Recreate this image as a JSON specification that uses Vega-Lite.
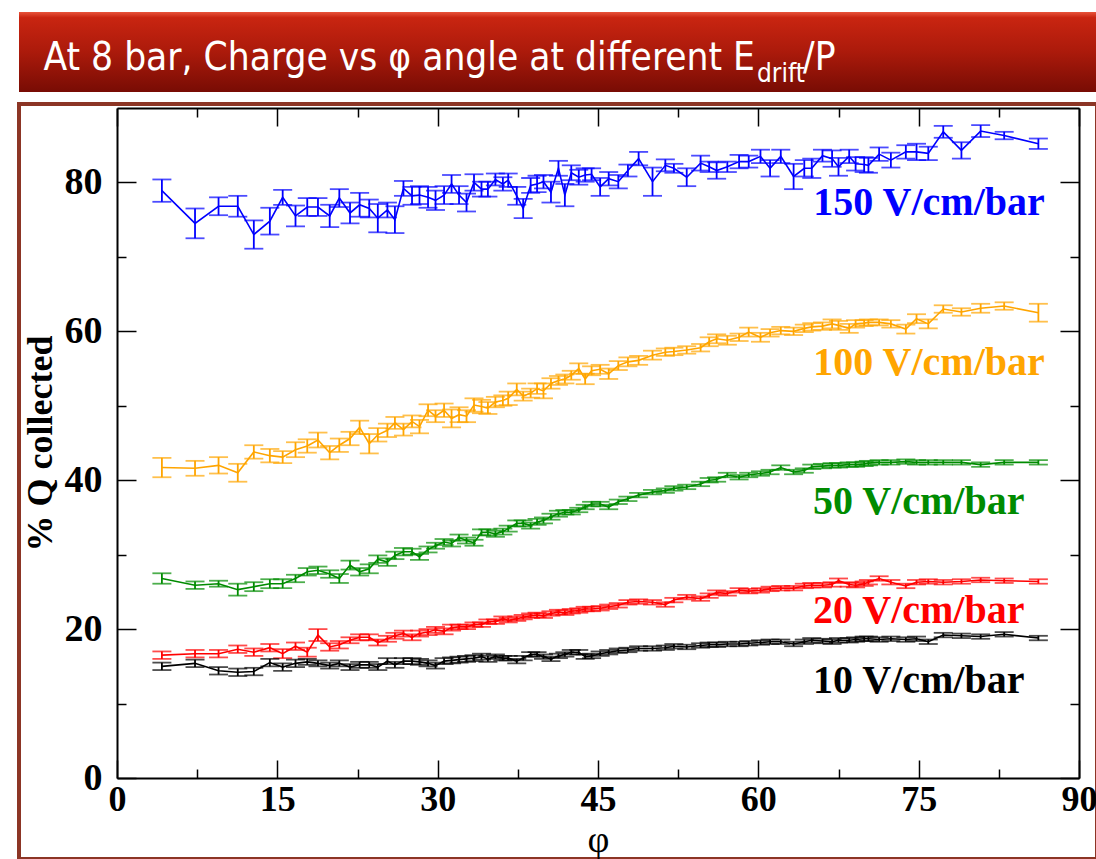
{
"$schema": "https://vega.github.io/schema/vega-lite/v6.json",
"background": "white",
"padding": {"left": 17, "top": 12, "right": 0, "bottom": 0},
"spacing": 10,
"config": {"view": {"stroke": null}},
"datasets": {
"pts": [
{"p":4.2,"s":"10","q":15.0,"e":0.5},{"p":7.3,"s":"10","q":15.4,"e":0.5},{"p":9.5,"s":"10","q":14.4,"e":0.5},{"p":11.3,"s":"10","q":14.2,"e":0.5},{"p":12.8,"s":"10","q":14.3,"e":0.5},{"p":14.3,"s":"10","q":15.5,"e":0.5},{"p":15.5,"s":"10","q":14.9,"e":0.5},{"p":16.7,"s":"10","q":15.4,"e":0.5},{"p":17.8,"s":"10","q":15.6,"e":0.4},{"p":18.8,"s":"10","q":15.4,"e":0.4},
{"p":19.9,"s":"10","q":15.1,"e":0.4},{"p":20.8,"s":"10","q":15.4,"e":0.4},{"p":21.8,"s":"10","q":14.9,"e":0.4},{"p":22.7,"s":"10","q":15.2,"e":0.4},{"p":23.6,"s":"10","q":15.2,"e":0.4},{"p":24.4,"s":"10","q":14.9,"e":0.4},{"p":25.3,"s":"10","q":15.7,"e":0.4},{"p":26.0,"s":"10","q":15.2,"e":0.4},{"p":26.8,"s":"10","q":15.7,"e":0.4},{"p":27.6,"s":"10","q":15.7,"e":0.4},
{"p":28.3,"s":"10","q":15.6,"e":0.4},{"p":29.1,"s":"10","q":15.4,"e":0.4},{"p":29.8,"s":"10","q":15.1,"e":0.4},{"p":30.6,"s":"10","q":15.7,"e":0.4},{"p":31.3,"s":"10","q":15.8,"e":0.4},{"p":32.0,"s":"10","q":15.9,"e":0.4},{"p":32.7,"s":"10","q":16.0,"e":0.4},{"p":33.4,"s":"10","q":16.1,"e":0.4},{"p":34.1,"s":"10","q":16.3,"e":0.4},{"p":34.7,"s":"10","q":16.0,"e":0.4},
{"p":35.4,"s":"10","q":16.3,"e":0.3},{"p":36.1,"s":"10","q":16.1,"e":0.3},{"p":36.6,"s":"10","q":16.1,"e":0.3},{"p":37.4,"s":"10","q":15.7,"e":0.3},{"p":38.0,"s":"10","q":16.1,"e":0.3},{"p":38.7,"s":"10","q":16.6,"e":0.3},{"p":39.3,"s":"10","q":16.6,"e":0.3},{"p":39.9,"s":"10","q":16.3,"e":0.3},{"p":40.6,"s":"10","q":16.0,"e":0.3},{"p":41.3,"s":"10","q":16.4,"e":0.3},
{"p":41.9,"s":"10","q":16.6,"e":0.3},{"p":42.5,"s":"10","q":16.9,"e":0.3},{"p":43.2,"s":"10","q":16.9,"e":0.3},{"p":43.8,"s":"10","q":16.3,"e":0.3},{"p":44.4,"s":"10","q":16.4,"e":0.3},{"p":45.2,"s":"10","q":16.7,"e":0.3},{"p":46.0,"s":"10","q":16.9,"e":0.3},{"p":46.9,"s":"10","q":17.1,"e":0.3},{"p":47.8,"s":"10","q":17.2,"e":0.3},{"p":48.8,"s":"10","q":17.4,"e":0.3},
{"p":50.1,"s":"10","q":17.4,"e":0.3},{"p":51.3,"s":"10","q":17.5,"e":0.3},{"p":52.1,"s":"10","q":17.7,"e":0.3},{"p":53.3,"s":"10","q":17.6,"e":0.3},{"p":54.6,"s":"10","q":17.8,"e":0.3},{"p":55.4,"s":"10","q":17.9,"e":0.3},{"p":56.1,"s":"10","q":17.9,"e":0.3},{"p":57.1,"s":"10","q":18.0,"e":0.3},{"p":58.2,"s":"10","q":18.0,"e":0.3},{"p":59.1,"s":"10","q":18.1,"e":0.3},
{"p":60.2,"s":"10","q":18.2,"e":0.3},{"p":61.1,"s":"10","q":18.3,"e":0.3},{"p":62.1,"s":"10","q":18.3,"e":0.3},{"p":63.3,"s":"10","q":18.0,"e":0.3},{"p":64.3,"s":"10","q":18.3,"e":0.3},{"p":65.0,"s":"10","q":18.5,"e":0.3},{"p":66.0,"s":"10","q":18.4,"e":0.3},{"p":66.9,"s":"10","q":18.3,"e":0.3},{"p":67.5,"s":"10","q":18.5,"e":0.3},{"p":68.5,"s":"10","q":18.5,"e":0.3},
{"p":69.1,"s":"10","q":18.6,"e":0.3},{"p":69.9,"s":"10","q":18.7,"e":0.3},{"p":70.3,"s":"10","q":18.7,"e":0.3},{"p":71.3,"s":"10","q":18.6,"e":0.3},{"p":72.4,"s":"10","q":18.7,"e":0.3},{"p":73.8,"s":"10","q":18.6,"e":0.3},{"p":74.8,"s":"10","q":18.7,"e":0.3},{"p":75.9,"s":"10","q":18.3,"e":0.3},{"p":77.3,"s":"10","q":19.2,"e":0.3},{"p":79.0,"s":"10","q":19.1,"e":0.3},
{"p":80.8,"s":"10","q":19.0,"e":0.3},{"p":83.0,"s":"10","q":19.3,"e":0.3},{"p":86.2,"s":"10","q":18.8,"e":0.3},

{"p":4.2,"s":"20","q":16.5,"e":0.5},{"p":7.3,"s":"20","q":16.7,"e":0.5},{"p":9.5,"s":"20","q":16.7,"e":0.5},{"p":11.3,"s":"20","q":17.3,"e":0.5},{"p":12.8,"s":"20","q":16.9,"e":0.5},{"p":14.3,"s":"20","q":17.5,"e":0.5},{"p":15.5,"s":"20","q":16.7,"e":0.6},{"p":16.7,"s":"20","q":17.7,"e":0.5},{"p":17.8,"s":"20","q":16.9,"e":0.6},{"p":18.8,"s":"20","q":19.2,"e":0.8},
{"p":19.9,"s":"20","q":17.6,"e":0.5},{"p":20.8,"s":"20","q":17.9,"e":0.5},{"p":21.8,"s":"20","q":18.5,"e":0.4},{"p":22.7,"s":"20","q":18.9,"e":0.4},{"p":23.6,"s":"20","q":18.9,"e":0.4},{"p":24.4,"s":"20","q":18.2,"e":0.4},{"p":25.3,"s":"20","q":18.7,"e":0.4},{"p":26.0,"s":"20","q":19.1,"e":0.4},{"p":26.8,"s":"20","q":19.4,"e":0.4},{"p":27.6,"s":"20","q":18.9,"e":0.4},
{"p":28.3,"s":"20","q":19.4,"e":0.4},{"p":29.1,"s":"20","q":19.6,"e":0.4},{"p":29.8,"s":"20","q":19.9,"e":0.4},{"p":30.6,"s":"20","q":19.7,"e":0.4},{"p":31.3,"s":"20","q":20.2,"e":0.4},{"p":32.0,"s":"20","q":20.3,"e":0.3},{"p":32.7,"s":"20","q":20.3,"e":0.3},{"p":33.4,"s":"20","q":20.6,"e":0.3},{"p":34.1,"s":"20","q":20.6,"e":0.3},{"p":34.7,"s":"20","q":21.0,"e":0.3},
{"p":35.4,"s":"20","q":21.0,"e":0.3},{"p":36.1,"s":"20","q":21.4,"e":0.3},{"p":36.6,"s":"20","q":21.2,"e":0.3},{"p":37.4,"s":"20","q":21.4,"e":0.3},{"p":38.0,"s":"20","q":21.6,"e":0.3},{"p":38.7,"s":"20","q":21.8,"e":0.3},{"p":39.3,"s":"20","q":21.9,"e":0.3},{"p":39.9,"s":"20","q":21.8,"e":0.3},{"p":40.6,"s":"20","q":22.1,"e":0.3},{"p":41.3,"s":"20","q":22.3,"e":0.3},
{"p":41.9,"s":"20","q":22.2,"e":0.3},{"p":42.5,"s":"20","q":22.4,"e":0.3},{"p":43.2,"s":"20","q":22.5,"e":0.3},{"p":43.8,"s":"20","q":22.7,"e":0.3},{"p":44.4,"s":"20","q":22.7,"e":0.3},{"p":45.2,"s":"20","q":22.8,"e":0.3},{"p":46.0,"s":"20","q":23.0,"e":0.3},{"p":46.9,"s":"20","q":23.2,"e":0.3},{"p":47.8,"s":"20","q":23.6,"e":0.3},{"p":48.8,"s":"20","q":23.7,"e":0.3},
{"p":50.1,"s":"20","q":23.6,"e":0.3},{"p":51.3,"s":"20","q":23.3,"e":0.3},{"p":52.1,"s":"20","q":23.9,"e":0.3},{"p":53.3,"s":"20","q":24.3,"e":0.3},{"p":54.6,"s":"20","q":24.1,"e":0.3},{"p":55.4,"s":"20","q":24.5,"e":0.3},{"p":56.1,"s":"20","q":24.9,"e":0.3},{"p":57.1,"s":"20","q":24.8,"e":0.3},{"p":58.2,"s":"20","q":25.2,"e":0.3},{"p":59.1,"s":"20","q":25.1,"e":0.3},
{"p":60.2,"s":"20","q":25.2,"e":0.3},{"p":61.1,"s":"20","q":25.4,"e":0.3},{"p":62.1,"s":"20","q":25.5,"e":0.3},{"p":63.3,"s":"20","q":25.5,"e":0.3},{"p":64.3,"s":"20","q":25.8,"e":0.3},{"p":65.0,"s":"20","q":25.9,"e":0.3},{"p":66.0,"s":"20","q":25.9,"e":0.3},{"p":66.9,"s":"20","q":26.0,"e":0.3},{"p":67.5,"s":"20","q":26.5,"e":0.3},{"p":68.5,"s":"20","q":26.0,"e":0.3},
{"p":69.1,"s":"20","q":25.9,"e":0.3},{"p":69.9,"s":"20","q":26.1,"e":0.3},{"p":70.3,"s":"20","q":26.3,"e":0.3},{"p":71.3,"s":"20","q":26.8,"e":0.3},{"p":72.4,"s":"20","q":26.3,"e":0.3},{"p":73.8,"s":"20","q":25.8,"e":0.3},{"p":74.8,"s":"20","q":26.3,"e":0.3},{"p":75.9,"s":"20","q":26.4,"e":0.3},{"p":77.3,"s":"20","q":26.3,"e":0.3},{"p":79.0,"s":"20","q":26.4,"e":0.3},
{"p":80.8,"s":"20","q":26.6,"e":0.3},{"p":83.0,"s":"20","q":26.5,"e":0.3},{"p":86.2,"s":"20","q":26.4,"e":0.3},

{"p":4.2,"s":"50","q":26.8,"e":0.7},{"p":7.3,"s":"50","q":25.9,"e":0.5},{"p":9.5,"s":"50","q":26.1,"e":0.4},{"p":11.3,"s":"50","q":25.3,"e":0.8},{"p":12.8,"s":"50","q":25.7,"e":0.6},{"p":14.3,"s":"50","q":26.1,"e":0.6},{"p":15.5,"s":"50","q":26.1,"e":0.6},{"p":16.7,"s":"50","q":26.8,"e":0.5},{"p":17.8,"s":"50","q":27.7,"e":0.5},{"p":18.8,"s":"50","q":27.9,"e":0.5},
{"p":19.9,"s":"50","q":27.4,"e":0.5},{"p":20.8,"s":"50","q":26.8,"e":0.6},{"p":21.8,"s":"50","q":28.6,"e":0.6},{"p":22.7,"s":"50","q":27.7,"e":0.5},{"p":23.6,"s":"50","q":28.1,"e":0.6},{"p":24.4,"s":"50","q":29.4,"e":0.5},{"p":25.3,"s":"50","q":29.0,"e":0.5},{"p":26.0,"s":"50","q":29.9,"e":0.5},{"p":26.8,"s":"50","q":30.4,"e":0.5},{"p":27.6,"s":"50","q":30.4,"e":0.4},
{"p":28.3,"s":"50","q":29.7,"e":0.4},{"p":29.1,"s":"50","q":30.7,"e":0.4},{"p":29.8,"s":"50","q":31.2,"e":0.4},{"p":30.6,"s":"50","q":31.7,"e":0.4},{"p":31.3,"s":"50","q":31.5,"e":0.4},{"p":32.0,"s":"50","q":32.3,"e":0.4},{"p":32.7,"s":"50","q":31.9,"e":0.4},{"p":33.4,"s":"50","q":31.6,"e":0.4},{"p":34.1,"s":"50","q":33.0,"e":0.4},{"p":34.7,"s":"50","q":33.0,"e":0.4},
{"p":35.4,"s":"50","q":32.8,"e":0.4},{"p":36.1,"s":"50","q":33.1,"e":0.4},{"p":36.6,"s":"50","q":33.5,"e":0.4},{"p":37.4,"s":"50","q":34.2,"e":0.4},{"p":38.0,"s":"50","q":34.2,"e":0.4},{"p":38.7,"s":"50","q":33.9,"e":0.4},{"p":39.3,"s":"50","q":34.4,"e":0.4},{"p":39.9,"s":"50","q":34.6,"e":0.4},{"p":40.6,"s":"50","q":35.1,"e":0.4},{"p":41.3,"s":"50","q":35.5,"e":0.4},
{"p":41.9,"s":"50","q":35.7,"e":0.3},{"p":42.5,"s":"50","q":35.7,"e":0.3},{"p":43.2,"s":"50","q":36.0,"e":0.3},{"p":43.8,"s":"50","q":36.4,"e":0.3},{"p":44.4,"s":"50","q":36.8,"e":0.3},{"p":45.2,"s":"50","q":36.8,"e":0.3},{"p":46.0,"s":"50","q":36.4,"e":0.3},{"p":46.9,"s":"50","q":37.1,"e":0.3},{"p":47.8,"s":"50","q":37.5,"e":0.3},{"p":48.8,"s":"50","q":38.0,"e":0.3},
{"p":50.1,"s":"50","q":38.4,"e":0.3},{"p":51.3,"s":"50","q":38.6,"e":0.3},{"p":52.1,"s":"50","q":38.9,"e":0.3},{"p":53.3,"s":"50","q":39.1,"e":0.3},{"p":54.6,"s":"50","q":39.5,"e":0.3},{"p":55.4,"s":"50","q":40.0,"e":0.3},{"p":56.1,"s":"50","q":40.1,"e":0.3},{"p":57.1,"s":"50","q":40.7,"e":0.3},{"p":58.2,"s":"50","q":40.4,"e":0.3},{"p":59.1,"s":"50","q":40.7,"e":0.3},
{"p":60.2,"s":"50","q":40.9,"e":0.3},{"p":61.1,"s":"50","q":41.1,"e":0.3},{"p":62.1,"s":"50","q":41.7,"e":0.3},{"p":63.3,"s":"50","q":41.1,"e":0.3},{"p":64.3,"s":"50","q":41.3,"e":0.3},{"p":65.0,"s":"50","q":41.8,"e":0.3},{"p":66.0,"s":"50","q":41.9,"e":0.3},{"p":66.9,"s":"50","q":42.0,"e":0.3},{"p":67.5,"s":"50","q":42.0,"e":0.3},{"p":68.5,"s":"50","q":42.1,"e":0.3},
{"p":69.1,"s":"50","q":42.1,"e":0.3},{"p":69.9,"s":"50","q":42.2,"e":0.3},{"p":70.3,"s":"50","q":42.3,"e":0.3},{"p":71.3,"s":"50","q":42.4,"e":0.3},{"p":72.4,"s":"50","q":42.4,"e":0.3},{"p":73.8,"s":"50","q":42.5,"e":0.3},{"p":74.8,"s":"50","q":42.4,"e":0.3},{"p":75.9,"s":"50","q":42.4,"e":0.3},{"p":77.3,"s":"50","q":42.4,"e":0.3},{"p":79.0,"s":"50","q":42.4,"e":0.3},
{"p":80.8,"s":"50","q":42.1,"e":0.3},{"p":83.0,"s":"50","q":42.4,"e":0.3},{"p":86.2,"s":"50","q":42.4,"e":0.3},

{"p":4.2,"s":"100","q":41.7,"e":1.3},{"p":7.3,"s":"100","q":41.6,"e":1.0},{"p":9.5,"s":"100","q":42.0,"e":1.1},{"p":11.3,"s":"100","q":41.0,"e":1.2},{"p":12.8,"s":"100","q":43.8,"e":0.9},{"p":14.3,"s":"100","q":43.3,"e":0.9},{"p":15.5,"s":"100","q":43.1,"e":0.8},{"p":16.7,"s":"100","q":44.1,"e":1.0},{"p":17.8,"s":"100","q":44.6,"e":0.9},{"p":18.8,"s":"100","q":45.4,"e":1.0},
{"p":19.9,"s":"100","q":43.7,"e":0.9},{"p":20.8,"s":"100","q":44.7,"e":0.9},{"p":21.8,"s":"100","q":45.6,"e":0.9},{"p":22.7,"s":"100","q":47.1,"e":0.9},{"p":23.6,"s":"100","q":44.9,"e":1.3},{"p":24.4,"s":"100","q":46.1,"e":0.9},{"p":25.3,"s":"100","q":46.7,"e":0.9},{"p":26.0,"s":"100","q":47.7,"e":0.8},{"p":26.8,"s":"100","q":46.8,"e":0.8},{"p":27.6,"s":"100","q":47.9,"e":0.8},
{"p":28.3,"s":"100","q":47.2,"e":0.9},{"p":29.1,"s":"100","q":49.4,"e":0.8},{"p":29.8,"s":"100","q":48.6,"e":0.8},{"p":30.6,"s":"100","q":49.4,"e":0.9},{"p":31.3,"s":"100","q":48.3,"e":1.2},{"p":32.0,"s":"100","q":48.8,"e":1.0},{"p":32.7,"s":"100","q":48.6,"e":0.8},{"p":33.4,"s":"100","q":50.1,"e":0.9},{"p":34.1,"s":"100","q":49.9,"e":0.9},{"p":34.7,"s":"100","q":49.7,"e":0.8},
{"p":35.4,"s":"100","q":50.5,"e":0.7},{"p":36.1,"s":"100","q":50.7,"e":0.7},{"p":36.6,"s":"100","q":51.0,"e":0.9},{"p":37.4,"s":"100","q":52.2,"e":0.8},{"p":38.0,"s":"100","q":51.3,"e":0.6},{"p":38.7,"s":"100","q":51.7,"e":0.6},{"p":39.3,"s":"100","q":52.3,"e":0.7},{"p":39.9,"s":"100","q":52.0,"e":1.0},{"p":40.6,"s":"100","q":53.0,"e":0.7},{"p":41.3,"s":"100","q":53.4,"e":0.6},
{"p":41.9,"s":"100","q":53.6,"e":0.6},{"p":42.5,"s":"100","q":54.1,"e":0.6},{"p":43.2,"s":"100","q":55.0,"e":0.7},{"p":43.8,"s":"100","q":53.6,"e":0.7},{"p":44.4,"s":"100","q":54.7,"e":0.6},{"p":45.2,"s":"100","q":54.9,"e":0.6},{"p":46.0,"s":"100","q":54.3,"e":0.7},{"p":46.9,"s":"100","q":55.4,"e":0.6},{"p":47.8,"s":"100","q":55.9,"e":0.6},{"p":48.8,"s":"100","q":56.1,"e":0.6},
{"p":50.1,"s":"100","q":56.8,"e":0.6},{"p":51.3,"s":"100","q":57.2,"e":0.5},{"p":52.1,"s":"100","q":57.3,"e":0.5},{"p":53.3,"s":"100","q":57.5,"e":0.5},{"p":54.6,"s":"100","q":57.8,"e":0.5},{"p":55.4,"s":"100","q":58.6,"e":0.6},{"p":56.1,"s":"100","q":59.0,"e":0.6},{"p":57.1,"s":"100","q":58.8,"e":0.6},{"p":58.2,"s":"100","q":59.2,"e":0.5},{"p":59.1,"s":"100","q":59.9,"e":0.6},
{"p":60.2,"s":"100","q":59.2,"e":0.6},{"p":61.1,"s":"100","q":59.8,"e":0.5},{"p":62.1,"s":"100","q":60.1,"e":0.5},{"p":63.3,"s":"100","q":60.0,"e":0.5},{"p":64.3,"s":"100","q":60.4,"e":0.5},{"p":65.0,"s":"100","q":60.6,"e":0.5},{"p":66.0,"s":"100","q":60.7,"e":0.5},{"p":66.9,"s":"100","q":61.0,"e":0.6},{"p":67.5,"s":"100","q":60.8,"e":0.6},{"p":68.5,"s":"100","q":60.4,"e":0.6},
{"p":69.1,"s":"100","q":61.0,"e":0.5},{"p":69.9,"s":"100","q":61.1,"e":0.4},{"p":70.3,"s":"100","q":61.2,"e":0.4},{"p":71.3,"s":"100","q":61.2,"e":0.4},{"p":72.4,"s":"100","q":61.0,"e":0.5},{"p":73.8,"s":"100","q":60.3,"e":0.6},{"p":74.8,"s":"100","q":61.7,"e":0.6},{"p":75.9,"s":"100","q":61.0,"e":0.6},{"p":77.3,"s":"100","q":63.0,"e":0.5},{"p":79.0,"s":"100","q":62.6,"e":0.5},
{"p":80.8,"s":"100","q":63.1,"e":0.6},{"p":83.0,"s":"100","q":63.4,"e":0.5},{"p":86.2,"s":"100","q":62.5,"e":1.2},

{"p":4.2,"s":"150","q":78.9,"e":1.5},{"p":7.3,"s":"150","q":74.5,"e":2.0},{"p":9.5,"s":"150","q":76.8,"e":1.2},{"p":11.3,"s":"150","q":76.8,"e":1.4},{"p":12.8,"s":"150","q":73.0,"e":1.9},{"p":14.3,"s":"150","q":74.8,"e":1.8},{"p":15.5,"s":"150","q":78.0,"e":1.0},{"p":16.7,"s":"150","q":75.5,"e":1.4},{"p":17.8,"s":"150","q":76.7,"e":1.2},{"p":18.8,"s":"150","q":76.7,"e":1.2},
{"p":19.9,"s":"150","q":75.5,"e":1.5},{"p":20.8,"s":"150","q":77.9,"e":1.2},{"p":21.8,"s":"150","q":75.9,"e":1.4},{"p":22.7,"s":"150","q":77.0,"e":1.6},{"p":23.6,"s":"150","q":76.5,"e":1.2},{"p":24.4,"s":"150","q":75.2,"e":1.9},{"p":25.3,"s":"150","q":76.3,"e":1.0},{"p":26.0,"s":"150","q":75.0,"e":1.8},{"p":26.8,"s":"150","q":79.2,"e":1.0},{"p":27.6,"s":"150","q":78.2,"e":1.2},
{"p":28.3,"s":"150","q":78.3,"e":1.2},{"p":29.1,"s":"150","q":78.0,"e":1.4},{"p":29.8,"s":"150","q":77.6,"e":1.3},{"p":30.6,"s":"150","q":78.3,"e":1.2},{"p":31.3,"s":"150","q":79.8,"e":1.2},{"p":32.0,"s":"150","q":78.3,"e":1.2},{"p":32.7,"s":"150","q":77.3,"e":1.2},{"p":33.4,"s":"150","q":80.0,"e":1.1},{"p":34.1,"s":"150","q":79.1,"e":1.0},{"p":34.7,"s":"150","q":79.1,"e":1.0},
{"p":35.4,"s":"150","q":80.4,"e":0.8},{"p":36.1,"s":"150","q":79.8,"e":0.9},{"p":36.6,"s":"150","q":80.3,"e":0.9},{"p":37.4,"s":"150","q":78.2,"e":1.2},{"p":38.0,"s":"150","q":76.5,"e":1.3},{"p":38.7,"s":"150","q":79.6,"e":1.0},{"p":39.3,"s":"150","q":79.8,"e":1.1},{"p":39.9,"s":"150","q":80.1,"e":0.9},{"p":40.6,"s":"150","q":78.7,"e":1.4},{"p":41.3,"s":"150","q":81.9,"e":1.0},
{"p":41.9,"s":"150","q":78.3,"e":1.5},{"p":42.5,"s":"150","q":81.3,"e":1.0},{"p":43.2,"s":"150","q":80.7,"e":1.0},{"p":43.8,"s":"150","q":81.0,"e":0.9},{"p":44.4,"s":"150","q":81.1,"e":0.8},{"p":45.2,"s":"150","q":79.4,"e":1.2},{"p":46.0,"s":"150","q":80.5,"e":0.9},{"p":46.9,"s":"150","q":80.1,"e":0.9},{"p":47.8,"s":"150","q":81.6,"e":0.8},{"p":48.8,"s":"150","q":83.2,"e":0.9},
{"p":50.1,"s":"150","q":80.1,"e":1.9},{"p":51.3,"s":"150","q":82.3,"e":0.8},{"p":52.1,"s":"150","q":81.9,"e":0.6},{"p":53.3,"s":"150","q":80.7,"e":1.2},{"p":54.6,"s":"150","q":82.6,"e":1.0},{"p":55.4,"s":"150","q":82.1,"e":0.7},{"p":56.1,"s":"150","q":81.6,"e":1.1},{"p":57.1,"s":"150","q":82.1,"e":0.7},{"p":58.2,"s":"150","q":82.8,"e":0.9},{"p":59.1,"s":"150","q":82.8,"e":0.8},
{"p":60.2,"s":"150","q":83.5,"e":0.9},{"p":61.1,"s":"150","q":81.9,"e":1.1},{"p":62.1,"s":"150","q":83.5,"e":0.9},{"p":63.3,"s":"150","q":80.8,"e":1.7},{"p":64.3,"s":"150","q":81.9,"e":1.1},{"p":65.0,"s":"150","q":81.9,"e":1.3},{"p":66.0,"s":"150","q":83.6,"e":0.8},{"p":66.9,"s":"150","q":83.2,"e":1.1},{"p":67.5,"s":"150","q":82.1,"e":1.2},{"p":68.5,"s":"150","q":83.5,"e":0.9},
{"p":69.1,"s":"150","q":82.5,"e":0.9},{"p":69.9,"s":"150","q":82.4,"e":1.0},{"p":70.3,"s":"150","q":82.3,"e":1.0},{"p":71.3,"s":"150","q":83.8,"e":0.9},{"p":72.4,"s":"150","q":83.0,"e":1.0},{"p":73.8,"s":"150","q":84.1,"e":0.9},{"p":74.8,"s":"150","q":84.1,"e":1.1},{"p":75.9,"s":"150","q":83.9,"e":0.9},{"p":77.3,"s":"150","q":86.8,"e":0.8},{"p":79.0,"s":"150","q":84.3,"e":1.1},
{"p":80.8,"s":"150","q":86.9,"e":0.8},{"p":83.0,"s":"150","q":86.3,"e":0.5},{"p":86.2,"s":"150","q":85.2,"e":0.7}
],
"labels": [
{"s":"150","label":"150 V/cm/bar","p":86.8,"q":75.6},
{"s":"100","label":"100 V/cm/bar","p":86.8,"q":54.1},
{"s":"50","label":"50 V/cm/bar","p":84.9,"q":35.4},
{"s":"20","label":"20 V/cm/bar","p":84.9,"q":20.8},
{"s":"10","label":"10 V/cm/bar","p":84.9,"q":11.4}
]
},
"vconcat": [
{
"width": 1078,
"height": 80,
"view": {"stroke": null, "fill": {"gradient": "linear", "x1": 0, "y1": 0, "x2": 0, "y2": 1, "stops": [{"offset": 0, "color": "#e8533a"}, {"offset": 0.07, "color": "#c92511"}, {"offset": 0.5, "color": "#ab1a0b"}, {"offset": 1, "color": "#780c04"}]}},
"data": {"values": [{"t": 1}]},
"layer": [
{"mark": {"type": "text", "text": "At 8 bar, Charge vs φ angle at different E", "align": "right", "baseline": "alphabetic", "dx": 197, "dy": 18, "font": "DejaVu Sans Condensed, Liberation Sans, sans-serif", "fontSize": 38.5, "fill": "white"}, "encoding": {}},
{"mark": {"type": "text", "text": "drift", "align": "left", "baseline": "alphabetic", "dx": 199, "dy": 30, "font": "DejaVu Sans Condensed, Liberation Sans, sans-serif", "fontSize": 26, "fill": "white"}, "encoding": {}},
{"mark": {"type": "text", "text": "/P", "align": "left", "baseline": "alphabetic", "dx": 245, "dy": 18, "font": "DejaVu Sans Condensed, Liberation Sans, sans-serif", "fontSize": 38.5, "fill": "white"}, "encoding": {}}
]
},
{
"width": 1078,
"height": 755,
"view": {"stroke": "#8c3525", "strokeWidth": 4, "fill": "white"},
"layer": [
{
"data": {"name": "pts"},
"mark": {"type": "line", "strokeWidth": 1.6},
"encoding": {
"x": {"field": "p", "type": "quantitative", "scale": {"domain": [0, 90], "range": [98, 1060], "nice": false, "zero": false},
 "axis": {"orient": "bottom", "offset": -81, "values": [0, 7.5, 15, 22.5, 30, 37.5, 45, 52.5, 60, 67.5, 75, 82.5, 90],
  "labelExpr": "datum.value % 15 === 0 ? datum.label : ''",
  "tickSize": {"condition": {"test": "datum.value % 15 === 0", "value": -18}, "value": -9},
  "tickColor": "black", "tickWidth": 1.5, "domainColor": "black", "domainWidth": 2, "grid": false,
  "labelFont": "Liberation Serif", "labelFontWeight": "bold", "labelFontSize": 36, "labelColor": "black", "labelPadding": 22, "labelFlush": false, "labelOverlap": false, "labelBound": false,
  "title": "φ", "titleFont": "Liberation Serif", "titleFontWeight": "normal", "titleFontSize": 38, "titleColor": "black", "titlePadding": -5}},
"y": {"field": "q", "type": "quantitative", "scale": {"domain": [0, 90], "range": [674, 4], "nice": false, "zero": false},
 "axis": {"orient": "left", "offset": -98, "values": [0, 10, 20, 30, 40, 50, 60, 70, 80],
  "labelExpr": "datum.value % 20 === 0 ? datum.label : ''",
  "tickSize": {"condition": {"test": "datum.value % 20 === 0", "value": -19}, "value": -9},
  "tickColor": "black", "tickWidth": 1.5, "domainColor": "black", "domainWidth": 2, "grid": false,
  "labelFont": "Liberation Serif", "labelFontWeight": "bold", "labelFontSize": 38, "labelColor": "black", "labelPadding": 34, "labelFlush": false, "labelOverlap": false, "labelBound": false,
  "title": "% Q  collected", "titleFont": "Liberation Serif", "titleFontWeight": "bold", "titleFontSize": 36, "titleColor": "black", "titlePadding": 5}},
"color": {"field": "s", "type": "nominal", "scale": {"domain": ["10", "20", "50", "100", "150"], "range": ["#000000", "#ff0000", "#008b00", "#ffa500", "#0000ff"]}, "legend": null}
}
},
{
"data": {"name": "pts"},
"mark": {"type": "errorbar", "ticks": {"size": 19}, "thickness": 1.8},
"encoding": {
"x": {"field": "p", "type": "quantitative",
 "axis": {"orient": "top", "offset": -4, "values": [0, 7.5, 15, 22.5, 30, 37.5, 45, 52.5, 60, 67.5, 75, 82.5, 90],
  "labels": false, "title": null, "grid": false,
  "tickSize": {"condition": {"test": "datum.value % 15 === 0", "value": -18}, "value": -9},
  "tickColor": "black", "tickWidth": 1.5, "domainColor": "black", "domainWidth": 2}},
"y": {"field": "q", "type": "quantitative",
 "axis": {"orient": "right", "offset": -18, "values": [0, 10, 20, 30, 40, 50, 60, 70, 80],
  "labels": false, "title": null, "grid": false,
  "tickSize": {"condition": {"test": "datum.value % 20 === 0", "value": -19}, "value": -9},
  "tickColor": "black", "tickWidth": 1.5, "domainColor": "black", "domainWidth": 2}},
"yError": {"field": "e"},
"color": {"field": "s", "type": "nominal", "legend": null}
}
},
{
"data": {"name": "labels"},
"mark": {"type": "text", "align": "right", "baseline": "alphabetic", "font": "Liberation Serif", "fontWeight": "bold", "fontSize": 40},
"encoding": {
"x": {"field": "p", "type": "quantitative", "axis": null},
"y": {"field": "q", "type": "quantitative", "axis": null},
"text": {"field": "label"},
"color": {"field": "s", "type": "nominal", "legend": null}
}
}
],
"resolve": {"axis": {"x": "independent", "y": "independent"}}
}
]
}
